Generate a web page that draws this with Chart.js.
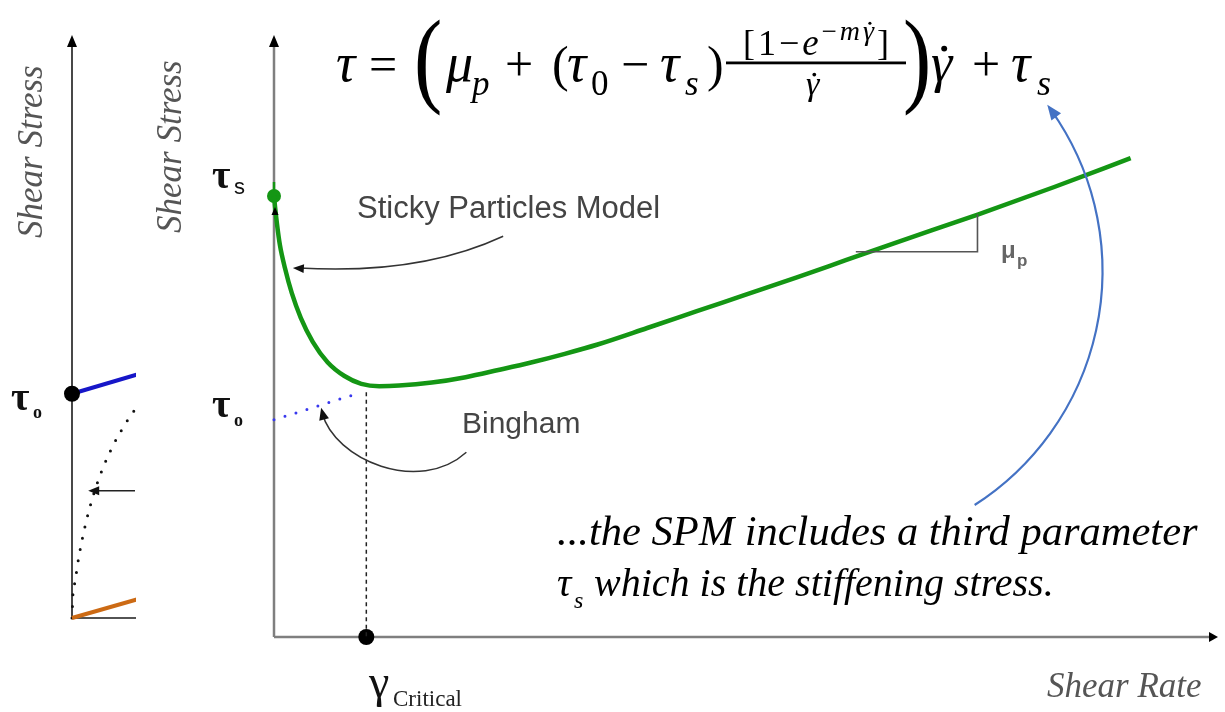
<!DOCTYPE html>
<html>
<head>
<meta charset="utf-8">
<title>Sticky Particles Model vs Bingham</title>
<script src="https://cdn.jsdelivr.net/npm/chart.js@4.4.1/dist/chart.umd.min.js"></script>
<style>
  html, body { margin: 0; padding: 0; background: #fff; overflow: hidden; }
  #stage { position: relative; width: 1225px; height: 712px; }
  #leftWrap { position: absolute; left: 0; top: 0; width: 136px; height: 712px; overflow: hidden; }
  #leftCanvas, #mainCanvas { position: absolute; left: 0; top: 0; }
</style>
</head>
<body>
<div id="stage">
  <div id="leftWrap"><canvas id="leftCanvas" width="700" height="712"></canvas></div>
  <canvas id="mainCanvas" width="1225" height="712"></canvas>
</div>
<script>
// ---- Main panel: Sticky Particles Model (shear rate -> shear stress, arbitrary units)
const spmRate   = [0, 0.11, 0.32, 0.63, 1.16, 1.89, 2.84, 4.11, 5.68, 7.47, 9.26, 11.16, 13.26, 16.74, 20.32, 23.79, 27.26, 30.84, 34.32, 39.58, 44.84, 50.11, 55.37, 60.63, 65.89, 74.63, 82.74, 90.84];
const spmStress = [73.5, 71.7, 68.8, 65.3, 61.5, 57.3, 53.2, 49.2, 45.8, 43.5, 42.2, 41.8, 41.9, 42.4, 43.3, 44.5, 45.75, 47.2, 48.75, 51.5, 54.3, 57.1, 59.9, 62.8, 65.7, 70.4, 75.0, 79.8];

// Bingham line from the yield stress up to the critical shear rate
const binghamRate   = [0, 9.3];
const binghamStress = [36.2, 40.8];

// Marked parameters
const tauS = 73.5;          // stiffening stress
const gammaCritical = 9.79; // critical shear rate
const criticalStress = 40.8;

// ---- Left panel: classic flow curves
const leftBinghamRate   = [0, 40];
const leftBinghamStress = [38.6, 50.8];
const leftNewtonRate    = [0, 40];
const leftNewtonStress  = [0, 11.8];
const leftDottedRate    = [0, 0.17, 0.5, 1.1, 1.9, 2.8, 3.95, 5.3, 7.05, 9.0, 10.1, 12.2];
const leftDottedStress  = [0, 4.3, 6.2, 10.3, 14.5, 18.4, 22.4, 26.2, 30.1, 33.6, 35.3, 38.0];
const leftTauO = 38.6;

const pts = (xs, ys) => xs.map((x, i) => ({ x, y: ys[i] }));

const GREEN = '#149614';
const SERIF = '"Liberation Serif"';
const SANS = '"Liberation Sans"';

function arrowHead(ctx, tipX, tipY, dirX, dirY, len, wid, color) {
  const m = Math.hypot(dirX, dirY);
  const ux = dirX / m, uy = dirY / m;
  const bx = tipX - ux * len, by = tipY - uy * len;
  ctx.beginPath();
  ctx.moveTo(tipX, tipY);
  ctx.lineTo(bx - uy * wid / 2, by + ux * wid / 2);
  ctx.lineTo(bx + uy * wid / 2, by - ux * wid / 2);
  ctx.closePath();
  ctx.fillStyle = color;
  ctx.fill();
}

function put(ctx, s, x, y, font, color) {
  ctx.font = font;
  ctx.fillStyle = color || '#000';
  ctx.textAlign = 'left';
  ctx.textBaseline = 'alphabetic';
  ctx.fillText(s, x, y);
  return ctx.measureText(s).width;
}

// italic gamma with an overdot (time derivative); returns advance width
function gammaDot(ctx, x, y, size) {
  const w = put(ctx, 'γ', x, y, `italic ${size}px ${SERIF}`);
  ctx.beginPath();
  ctx.arc(x + w * 0.62, y - size * 0.6, Math.max(1.4, size * 0.055), 0, Math.PI * 2);
  ctx.fillStyle = '#000';
  ctx.fill();
  return w;
}

function bigParen(ctx, s, x, y) {
  ctx.save();
  ctx.translate(x, y);
  ctx.scale(0.8, 1);
  put(ctx, s, 0, 0, `106px ${SERIF}`);
  ctx.restore();
}

function drawFormula(ctx) {
  const I = s => `italic ${s}px ${SERIF}`;
  const R = s => `${s}px ${SERIF}`;
  put(ctx, 'τ', 336, 81, I(54));
  put(ctx, '=', 369, 81, R(50));
  bigParen(ctx, '(', 414, 93);
  put(ctx, 'μ', 446, 81, I(54));
  put(ctx, 'p', 472, 95, I(35));
  put(ctx, '+', 505, 81, R(50));
  put(ctx, '(', 552, 81, R(50));
  put(ctx, 'τ', 567, 81, I(54));
  put(ctx, '0', 591, 95, R(35));
  put(ctx, '−', 621, 81, R(50));
  put(ctx, 'τ', 660, 81, I(54));
  put(ctx, 's', 685, 95, I(35));
  put(ctx, ')', 707, 81, R(50));

  // fraction: numerator laid out piece by piece and centred on the bar
  const barL = 726, barR = 906, gap = 3;
  const pieces = [
    { t: '[', f: R(36), dy: 0 }, { t: '1', f: R(36), dy: 0 }, { t: '−', f: R(36), dy: 0 },
    { t: 'e', f: I(37), dy: 0 }, { t: '−', f: R(27), dy: -15 }, { t: 'm', f: I(28), dy: -15 },
    { t: 'γ̇', f: 28, dy: -15 }, { t: ']', f: R(36), dy: 0 }
  ];
  let total = 0;
  pieces.forEach(p => {
    ctx.font = typeof p.f === 'number' ? I(p.f) : p.f;
    p.w = ctx.measureText(p.t === 'γ̇' ? 'γ' : p.t).width;
    total += p.w;
  });
  total += gap * (pieces.length - 1);
  let x = (barL + barR) / 2 - total / 2;
  pieces.forEach(p => {
    if (p.t === 'γ̇') gammaDot(ctx, x, 55 + p.dy, p.f);
    else put(ctx, p.t, x, 55 + p.dy, p.f);
    x += p.w + gap;
  });
  ctx.fillStyle = '#000';
  ctx.fillRect(barL, 61.5, barR - barL, 2.8);
  gammaDot(ctx, 806, 95, 34);

  bigParen(ctx, ')', 903, 93);
  gammaDot(ctx, 931, 81, 54);
  put(ctx, '+', 972, 81, R(50));
  put(ctx, 'τ', 1011, 81, I(54));
  put(ctx, 's', 1037, 95, I(36));
}

function rotatedText(ctx, s, x, y, font, color) {
  ctx.save();
  ctx.translate(x, y);
  ctx.rotate(-Math.PI / 2);
  put(ctx, s, 0, 0, font, color);
  ctx.restore();
}

// Circle through three pixel points
function circleThrough(a, b, c) {
  const d = 2 * (a.x * (b.y - c.y) + b.x * (c.y - a.y) + c.x * (a.y - b.y));
  const a2 = a.x * a.x + a.y * a.y, b2 = b.x * b.x + b.y * b.y, c2 = c.x * c.x + c.y * c.y;
  const cx = (a2 * (b.y - c.y) + b2 * (c.y - a.y) + c2 * (a.y - b.y)) / d;
  const cy = (a2 * (c.x - b.x) + b2 * (a.x - c.x) + c2 * (b.x - a.x)) / d;
  return { cx, cy, r: Math.hypot(a.x - cx, a.y - cy) };
}

const mainDecor = {
  id: 'mainDecor',
  beforeDatasetsDraw(chart) {
    const { ctx, chartArea: { left, right, top, bottom } } = chart;
    ctx.save();
    ctx.strokeStyle = '#7f7f7f';
    ctx.lineWidth = 2.5;
    ctx.beginPath(); ctx.moveTo(left, bottom); ctx.lineTo(left, top + 8); ctx.stroke();
    ctx.beginPath(); ctx.moveTo(left, bottom); ctx.lineTo(right - 6, bottom); ctx.stroke();
    arrowHead(ctx, left, top - 2, 0, -1, 12, 10, '#000');
    arrowHead(ctx, right + 1, bottom, 1, 0, 9, 10, '#000');
    ctx.restore();
  },
  afterDatasetsDraw(chart) {
    const { ctx } = chart;
    const xs = chart.scales.x, ys = chart.scales.y;
    const P = (x, y) => ({ x: xs.getPixelForValue(x), y: ys.getPixelForValue(y) });
    ctx.save();

    // small marks at the stiffening stress point
    const s0 = P(0, tauS);
    ctx.strokeStyle = GREEN; ctx.lineWidth = 2.5;
    ctx.beginPath(); ctx.moveTo(s0.x, s0.y - 14); ctx.lineTo(s0.x, s0.y); ctx.stroke();
    arrowHead(ctx, s0.x + 1, s0.y + 11, 0, -1, 8, 7, '#000');

    // slope triangle (plastic viscosity)
    const t1 = P(61.7, 64.2), t2 = P(74.6, 64.2), t3 = P(74.6, 70.5);
    ctx.strokeStyle = '#555'; ctx.lineWidth = 1.6;
    ctx.beginPath(); ctx.moveTo(t1.x, t1.y); ctx.lineTo(t2.x, t2.y); ctx.lineTo(t3.x, t3.y); ctx.stroke();

    // callout: Sticky Particles Model
    ctx.strokeStyle = '#333'; ctx.lineWidth = 1.5;
    const a0 = P(24.3, 66.8), ac = P(15.4, 60.3), a1 = P(2.0, 61.5);
    ctx.beginPath(); ctx.moveTo(a0.x, a0.y); ctx.quadraticCurveTo(ac.x, ac.y, a1.x + 6, a1.y); ctx.stroke();
    arrowHead(ctx, a1.x, a1.y, a1.x - ac.x, a1.y - ac.y, 11, 9, '#111');

    // callout: Bingham
    const b0 = P(20.4, 30.8), b1 = P(15.4, 23.7), b2 = P(6.4, 29.5), b3 = P(5.0, 38.2);
    ctx.beginPath(); ctx.moveTo(b0.x, b0.y); ctx.bezierCurveTo(b1.x, b1.y, b2.x, b2.y, b3.x + 1, b3.y + 5); ctx.stroke();
    arrowHead(ctx, b3.x, b3.y, b3.x - b2.x, b3.y - b2.y, 12, 10, '#111');

    // blue curved arrow from the note to the formula
    const A = P(74.3, 22.0), B = P(87.7, 56.2), C = P(82.0, 88.7);
    const circ = circleThrough(A, B, C);
    const angA = Math.atan2(A.y - circ.cy, A.x - circ.cx);
    const angC = Math.atan2(C.y - circ.cy, C.x - circ.cx);
    ctx.strokeStyle = '#4472c4'; ctx.lineWidth = 2.2;
    ctx.beginPath(); ctx.arc(circ.cx, circ.cy, circ.r, angA, angC + 0.03, true); ctx.stroke();
    arrowHead(ctx, C.x, C.y, Math.sin(angC), -Math.cos(angC), 15, 12, '#4472c4');

    // labels
    put(ctx, 'Sticky Particles Model', 357, 218, `31px ${SANS}`, '#444');
    put(ctx, 'Bingham', 462, 433, `30px ${SANS}`, '#444');
    put(ctx, 'μ', 1001, 258, `bold 24px ${SANS}`, '#666');
    put(ctx, 'p', 1017, 266, `bold 17px ${SANS}`, '#666');
    put(ctx, 'τ', 212, 188, `bold 40px ${SERIF}`, '#111');
    put(ctx, 's', 234, 194, `22px ${SANS}`, '#111');
    put(ctx, 'τ', 212, 417, `bold 40px ${SERIF}`, '#111');
    put(ctx, 'o', 234, 426, `bold 18px ${SERIF}`, '#111');
    rotatedText(ctx, 'Shear Stress', 181, 233, `italic 35px ${SERIF}`, '#555');
    put(ctx, 'Shear Rate', 1047, 697, `italic 35px ${SERIF}`, '#555');
    put(ctx, 'γ', 369, 697, `46px ${SERIF}`, '#111');
    put(ctx, 'Critical', 393, 706, `23px ${SERIF}`, '#222');

    drawFormula(ctx);

    put(ctx, '...the SPM includes a third parameter', 557, 545, `italic 42.5px ${SERIF}`, '#000');
    put(ctx, 'τ', 557, 596, `italic 40px ${SERIF}`, '#000');
    put(ctx, 's', 574, 608, `italic 24px ${SERIF}`, '#000');
    put(ctx, ' which is the stiffening stress.', 584, 596, `italic 40px ${SERIF}`, '#000');
    ctx.restore();
  }
};

const leftDecor = {
  id: 'leftDecor',
  beforeDatasetsDraw(chart) {
    const { ctx, chartArea: { left, right, top, bottom } } = chart;
    ctx.save();
    ctx.strokeStyle = '#1a1a1a';
    ctx.lineWidth = 1.6;
    ctx.beginPath(); ctx.moveTo(left, bottom); ctx.lineTo(left, top + 8); ctx.stroke();
    ctx.beginPath(); ctx.moveTo(left, bottom); ctx.lineTo(right, bottom); ctx.stroke();
    arrowHead(ctx, left, top - 2, 0, -1, 12, 10, '#000');
    ctx.restore();
  },
  afterDatasetsDraw(chart) {
    const { ctx } = chart;
    const xs = chart.scales.x, ys = chart.scales.y;
    const P = (x, y) => ({ x: xs.getPixelForValue(x), y: ys.getPixelForValue(y) });
    ctx.save();
    const a0 = P(10.5, 21.9), a1 = P(2.7, 21.9);
    ctx.strokeStyle = '#222'; ctx.lineWidth = 1.4;
    ctx.beginPath(); ctx.moveTo(a0.x, a0.y); ctx.lineTo(a1.x + 6, a1.y); ctx.stroke();
    arrowHead(ctx, a1.x, a1.y, -1, 0, 11, 9, '#111');
    rotatedText(ctx, 'Shear Stress', 42, 238, `italic 35px ${SERIF}`, '#555');
    put(ctx, 'τ', 11, 410, `bold 40px ${SERIF}`, '#111');
    put(ctx, 'o', 33, 418, `bold 18px ${SERIF}`, '#111');
    ctx.restore();
  }
};

const baseOptions = (pad) => ({
  responsive: false,
  animation: false,
  devicePixelRatio: 1,
  events: [],
  layout: { padding: pad },
  scales: {
    x: { type: 'linear', min: 0, max: 100, display: false },
    y: { type: 'linear', min: 0, max: 100, display: false }
  },
  plugins: { legend: { display: false }, tooltip: { enabled: false } }
});

new Chart(document.getElementById('leftCanvas'), {
  type: 'line',
  data: {
    datasets: [
      { label: 'yield point', data: [{ x: 0, y: leftTauO }], showLine: false, pointRadius: 8, pointBackgroundColor: '#000', pointBorderWidth: 0, clip: false },
      { label: 'Bingham', data: pts(leftBinghamRate, leftBinghamStress), borderColor: '#1616c8', borderWidth: 4, pointRadius: 0, clip: false },
      { label: 'Newtonian', data: pts(leftNewtonRate, leftNewtonStress), borderColor: '#cc6a14', borderWidth: 4, pointRadius: 0, clip: false },
      { label: 'shear thinning', data: pts(leftDottedRate, leftDottedStress), borderColor: '#111', borderWidth: 3, borderDash: [0, 11.5], borderCapStyle: 'round', pointRadius: 0, cubicInterpolationMode: 'monotone', clip: false }
    ]
  },
  options: baseOptions({ left: 72, right: 28, top: 37, bottom: 94 }),
  plugins: [leftDecor]
});

new Chart(document.getElementById('mainCanvas'), {
  type: 'line',
  data: {
    datasets: [
      { label: 'Sticky Particles Model', data: pts(spmRate, spmStress), borderColor: GREEN, borderWidth: 4.5, pointRadius: 0, cubicInterpolationMode: 'monotone', clip: false },
      { label: 'Bingham', data: pts(binghamRate, binghamStress), borderColor: '#3838ee', borderWidth: 3, borderDash: [0, 11.5], borderCapStyle: 'round', pointRadius: 0, clip: false },
      { label: 'critical rate', data: [{ x: gammaCritical, y: criticalStress }, { x: gammaCritical, y: 0 }], borderColor: '#222', borderWidth: 1.5, borderDash: [4, 3.5], pointRadius: 0, clip: false },
      { label: 'τs', data: [{ x: 0, y: tauS }], showLine: false, pointRadius: 7, pointBackgroundColor: GREEN, pointBorderWidth: 0, clip: false },
      { label: 'γ critical', data: [{ x: gammaCritical, y: 0 }], showLine: false, pointRadius: 8, pointBackgroundColor: '#000', pointBorderWidth: 0, clip: false }
    ]
  },
  options: baseOptions({ left: 274, right: 1, top: 37, bottom: 75 }),
  plugins: [mainDecor]
});
</script>
</body>
</html>
